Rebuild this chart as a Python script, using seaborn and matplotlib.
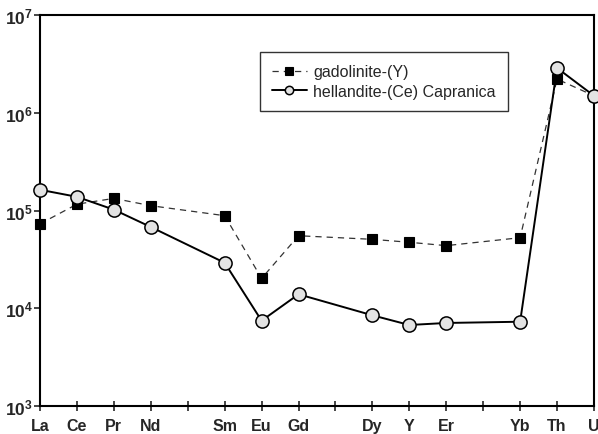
import matplotlib
matplotlib.use("Agg")
import matplotlib.pyplot as plt
import matplotlib.ticker as mticker
import numpy as np
import pandas as pd
import seaborn as sns

# ---- data ----
elements = ["La", "Ce", "Pr", "Nd", "", "Sm", "Eu", "Gd", "", "Dy", "Y", "Er", "", "Yb", "Th", "U"]
gad_elements = ["La", "Ce", "Pr", "Nd", "Sm", "Eu", "Gd", "Dy", "Y", "Er", "Yb", "Th", "U"]
gadolinite = [7.3e4, 1.16e5, 1.33e5, 1.12e5, 8.85e4, 2.02e4, 5.52e4, 5.07e4, 4.73e4, 4.37e4, 5.27e4, 2.21e6, 1.49e6]
hellandite = [1.63e5, 1.38e5, 1.02e5, 6.78e4, 2.92e4, 7.46e3, 1.39e4, 8.47e3, 6.74e3, 7.07e3, 7.28e3, 2.87e6, 1.49e6]
series_names = ["gadolinite-(Y)", "hellandite-(Ce) Capranica"]

pos = {e: i for i, e in enumerate(elements) if e}
xs = [pos[e] for e in gad_elements]

sns.set_style("ticks")
plt.rcParams["font.family"] = ["Liberation Sans", "DejaVu Sans"]
plt.rcParams["mathtext.fontset"] = "custom"
plt.rcParams["mathtext.rm"] = "Liberation Sans:bold"
plt.rcParams["mathtext.bf"] = "Liberation Sans:bold"
plt.rcParams["mathtext.it"] = "Liberation Sans:bold"

fig = plt.figure(figsize=(5.98, 4.35), dpi=100)
ax = fig.add_axes([40/598, 28/435, 554/598, 391/435])

df1 = pd.DataFrame({"x": xs, "y": gadolinite})
df2 = pd.DataFrame({"x": xs, "y": hellandite})

sns.lineplot(data=df1, x="x", y="y", ax=ax, color="black", linestyle=(0, (5, 4)),
             linewidth=0.9, marker="s", markersize=7.5, markerfacecolor="black",
             markeredgecolor="black", markeredgewidth=0.8, label=series_names[0],
             clip_on=False, zorder=3)
ax.lines[-1].set_color("#333333")
ax.lines[-1].set_markerfacecolor("black")
ax.lines[-1].set_markeredgecolor("black")
sns.lineplot(data=df2, x="x", y="y", ax=ax, color="black", linestyle="-",
             linewidth=1.4, marker="o", markersize=9.5, markerfacecolor="#e3e3e3",
             markeredgecolor="black", markeredgewidth=1.1, label=series_names[1],
             clip_on=False, zorder=4)

ax.set_yscale("log")
ax.set_ylim(1e3, 1e7)
ax.set_xlim(0, 15)
ax.set_xticks(range(len(elements)))
ax.set_xticklabels(elements, fontsize=11.5, fontweight="bold")
ax.yaxis.set_major_locator(mticker.LogLocator(base=10, numticks=10))
ax.yaxis.set_minor_locator(mticker.NullLocator())
ax.yaxis.set_major_formatter(mticker.FuncFormatter(lambda v, p: r"$\mathbf{10^{%d}}$" % int(round(np.log10(v)))))
ax.tick_params(axis="y", labelsize=12.5, direction="out", length=4, width=1.2, pad=1)
ax.tick_params(axis="x", direction="inout", length=7, width=1.2, pad=5)
ax.set_xlabel("")
ax.set_ylabel("")
for s in ax.spines.values():
    s.set_visible(True)
    s.set_linewidth(1.5)
    s.set_color("black")

leg = ax.legend(loc="upper left", bbox_to_anchor=(0.397, 0.905), frameon=True,
                fontsize=11.5, handlelength=2.2, handletextpad=0.4,
                borderpad=0.75, labelspacing=0.3, fancybox=False, borderaxespad=0)
leg.get_frame().set_edgecolor("black")
leg.get_frame().set_linewidth(1.0)
for h in leg.legend_handles:
    h.set_markersize(6)

fig.savefig("out.png", dpi=100)
